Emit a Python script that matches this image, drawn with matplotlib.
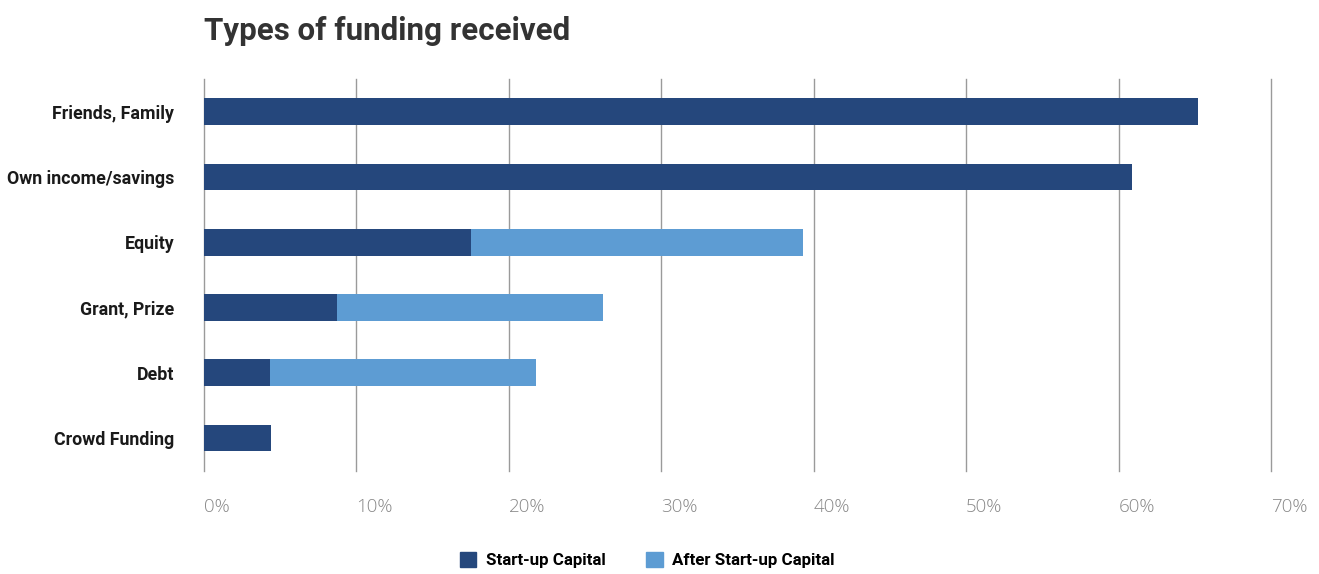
import matplotlib
matplotlib.use("Agg")
import matplotlib.pyplot as plt
from matplotlib.patches import Patch
import numpy as np

# ---------- Data ----------
categories = ["Friends, Family", "Own income/savings", "Equity",
              "Grant, Prize", "Debt", "Crowd Funding"]
startup_capital = [65.2, 60.9, 17.5, 8.7, 4.3, 4.4]
after_startup = [0.0, 0.0, 21.8, 17.5, 17.5, 0.0]
x_ticks = [0, 10, 20, 30, 40, 50, 60, 70]
x_tick_labels = ["0%", "10%", "20%", "30%", "40%", "50%", "60%", "70%"]

DARK = "#25477C"
LIGHT = "#5D9CD3"
LABEL_FONT = ["Roboto", "DejaVu Sans"]

fig = plt.figure(figsize=(13.19, 5.74), dpi=100)
ax = fig.add_axes([0.1547, 0.18, 0.809, 0.682])

y = np.arange(len(categories))
ax.barh(y, startup_capital, height=0.41, color=DARK, zorder=3)
ax.barh(y, after_startup, left=startup_capital, height=0.41, color=LIGHT, zorder=3)

ax.set_xlim(0, 70)
ax.set_ylim(len(categories) - 0.5, -0.5)
ax.set_xticks(x_ticks)
ax.set_xticklabels(x_tick_labels, ha="left", color="#888888",
                   fontsize=13.5, family="Open Sans", fontweight="light")
ax.set_yticks(y)
ax.set_yticklabels(categories, fontsize=12.8, fontweight="bold",
                   family=LABEL_FONT, color="#1a1a1a")
ax.tick_params(axis="x", length=0, pad=20)
ax.tick_params(axis="y", length=0, pad=21.5)

ax.grid(axis="x", color="#9a9a9a", linewidth=1, zorder=0)
for gl in ax.xaxis.get_gridlines():
    gl.set_clip_on(False)
for s in ax.spines.values():
    s.set_visible(False)

fig.text(204 / 1319, 1 - 40 / 574, "Types of funding received",
         fontsize=22.5, fontweight="bold", family=LABEL_FONT, color="#333333",
         ha="left", va="baseline")

handles = [Patch(color=DARK, label="Start-up Capital"),
           Patch(color=LIGHT, label="After Start-up Capital")]
fig.legend(handles=handles, loc="center", bbox_to_anchor=(0.4905, 1 - 560 / 574),
           ncol=2, frameon=False, handlelength=0.98, handleheight=0.98,
           handletextpad=0.55, columnspacing=2.4,
           prop={"family": LABEL_FONT, "weight": "bold", "size": 12.2})

fig.savefig("out.png", dpi=100)
